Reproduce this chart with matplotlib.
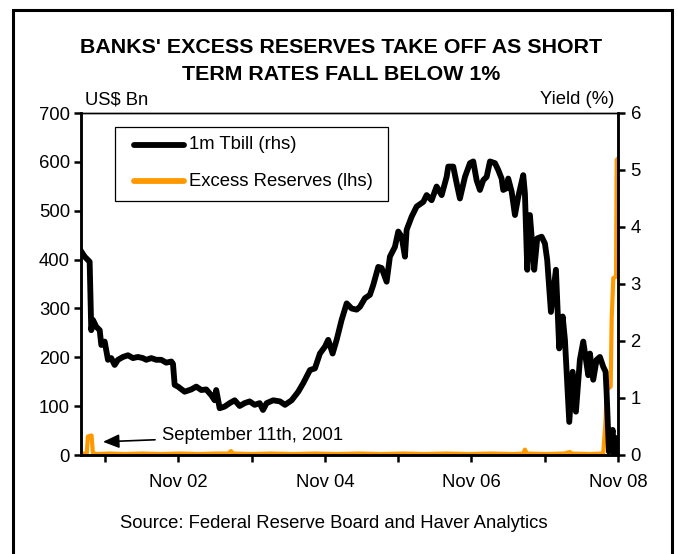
import matplotlib
matplotlib.use("Agg")
import matplotlib.pyplot as plt
from matplotlib.lines import Line2D
from matplotlib.patches import Rectangle

plt.rcParams['font.family'] = ['Liberation Sans', 'DejaVu Sans']

# 1m Tbill yield (%), x in decimal years
tbill_time = [2001.510, 2001.556, 2001.601, 2001.624, 2001.646, 2001.669, 2001.714, 2001.761,
              2001.783, 2001.829, 2001.874, 2001.919, 2001.965, 2002.010, 2002.079, 2002.147,
              2002.215, 2002.283, 2002.351, 2002.396, 2002.465, 2002.533, 2002.601, 2002.669,
              2002.738, 2002.761, 2002.784, 2002.829, 2002.920, 2003.010, 2003.079, 2003.147,
              2003.215, 2003.283, 2003.330, 2003.351, 2003.398, 2003.466, 2003.534, 2003.603,
              2003.671, 2003.739, 2003.807, 2003.875, 2003.944, 2003.989, 2004.039, 2004.129,
              2004.221, 2004.289, 2004.380, 2004.470, 2004.538, 2004.630, 2004.698, 2004.766,
              2004.834, 2004.879, 2004.939, 2004.994, 2005.062, 2005.131, 2005.199, 2005.267,
              2005.312, 2005.380, 2005.448, 2005.493, 2005.562, 2005.608, 2005.676, 2005.721,
              2005.789, 2005.835, 2005.881, 2005.926, 2005.949, 2006.017, 2006.086, 2006.176,
              2006.222, 2006.290, 2006.358, 2006.427, 2006.495, 2006.517, 2006.585, 2006.631,
              2006.676, 2006.745, 2006.813, 2006.858, 2006.904, 2006.949, 2006.994, 2007.041,
              2007.086, 2007.154, 2007.199, 2007.245, 2007.267, 2007.313, 2007.335, 2007.382,
              2007.427, 2007.472, 2007.540, 2007.563, 2007.595, 2007.631, 2007.690, 2007.731,
              2007.791, 2007.836, 2007.867, 2007.918, 2007.986, 2008.031, 2008.078, 2008.109,
              2008.168, 2008.214, 2008.259, 2008.313, 2008.359, 2008.427, 2008.450, 2008.495,
              2008.541, 2008.586, 2008.631, 2008.664, 2008.678, 2008.709, 2008.760, 2008.781,
              2008.800, 2008.818]
tbill_yield = [3.57, 3.48, 3.42, 3.39, 2.19, 2.37, 2.25, 2.19,
               1.93, 1.99, 1.67, 1.70, 1.58, 1.67, 1.72, 1.75,
               1.70, 1.72, 1.70, 1.67, 1.70, 1.67, 1.67, 1.62,
               1.64, 1.60, 1.23, 1.20, 1.11, 1.15, 1.20, 1.14,
               1.15, 1.05, 0.96, 1.14, 0.82, 0.85, 0.91, 0.96,
               0.86, 0.91, 0.94, 0.88, 0.91, 0.79, 0.91, 0.96,
               0.94, 0.88, 0.96, 1.11, 1.26, 1.49, 1.52, 1.78,
               1.90, 2.02, 1.78, 2.02, 2.37, 2.66, 2.57, 2.55,
               2.60, 2.75, 2.81, 2.98, 3.30, 3.28, 3.04, 3.48,
               3.65, 3.92, 3.83, 3.48, 3.95, 4.18, 4.36, 4.44,
               4.56, 4.47, 4.71, 4.56, 4.88, 5.06, 5.06, 4.77,
               4.50, 4.88, 5.12, 5.15, 4.82, 4.65, 4.82, 4.88,
               5.15, 5.12, 5.00, 4.85, 4.65, 4.68, 4.85, 4.62,
               4.21, 4.53, 4.91, 4.59, 3.25, 4.21, 3.25, 3.80,
               3.83, 3.71, 3.42, 2.51, 3.25, 1.87, 2.43, 2.02,
               0.58, 1.46, 0.76, 1.67, 1.99, 1.40, 1.78, 1.32,
               1.67, 1.72, 1.55, 1.46, 1.08, 0.06, 0.44, 0.02,
               0.30, 0.05]

# Excess reserves (US$ bn)
reserve_time = [2001.506, 2001.585, 2001.600, 2001.650, 2001.668, 2001.720, 2001.900, 2002.100,
                2002.350, 2002.600, 2002.850, 2003.100, 2003.350, 2003.520, 2003.552, 2003.580,
                2003.850, 2004.100, 2004.400, 2004.700, 2005.000, 2005.300, 2005.600, 2005.900,
                2006.200, 2006.500, 2006.800, 2007.100, 2007.400, 2007.540, 2007.563, 2007.590,
                2007.850, 2008.100, 2008.177, 2008.200, 2008.450, 2008.631, 2008.664, 2008.678,
                2008.733, 2008.747, 2008.769, 2008.806, 2008.815, 2008.829]
reserve_bn = [3, 3, 38, 40, 4, 2, 3, 2,
              3, 2, 3, 2, 3, 3, 8, 3,
              2, 3, 2, 3, 2, 3, 2, 3,
              2, 3, 2, 3, 2, 3, 11, 3,
              2, 3, 6, 3, 2, 3, 72, 133,
              140, 280, 362, 365, 604, 606]

tick_years = [2001.833, 2002.833, 2003.833, 2004.833, 2005.833, 2006.833, 2007.833, 2008.833]
tick_labels = ['', 'Nov 02', '', 'Nov 04', '', 'Nov 06', '', 'Nov 08']
legend_labels = ['1m Tbill (rhs)', 'Excess Reserves (lhs)']

W, H = 678, 554
FS = 13.3
fig = plt.figure(figsize=(W / 100, H / 100), dpi=100)
ax = fig.add_axes([81 / W, 99 / H, 537 / W, 342 / H])
ax2 = ax.twinx()

orange = '#FF9900'
ax.plot(reserve_time, reserve_bn, color=orange, lw=3.0)
ax2.plot(tbill_time, tbill_yield, color='black', lw=4.2)

ax.set_xlim(2001.506, 2008.833)
ax.set_ylim(0, 700)
ax2.set_ylim(0, 6)
ax.set_yticks(range(0, 701, 100))
ax2.set_yticks(range(0, 7))
ax.set_xticks(tick_years)
ax.set_xticklabels(tick_labels)

for a in (ax, ax2):
    for s in ('left', 'right', 'bottom'):
        a.spines[s].set_linewidth(1.8)
    a.spines['top'].set_linewidth(1.0)
    a.tick_params(labelsize=FS, width=1.8, length=5, direction='out')
ax.tick_params(axis='y', pad=3)
ax2.tick_params(axis='y', pad=4)
ax.tick_params(axis='x', pad=9)

fig.text(85 / W, 1 - 100 / H, 'US$ Bn', fontsize=FS, va='center', ha='left')
fig.text(614 / W, 1 - 100 / H, 'Yield (%)', fontsize=FS, va='center', ha='right')

fig.text(341 / W, 1 - 61 / H, "BANKS' EXCESS RESERVES TAKE OFF AS SHORT\nTERM RATES FALL BELOW 1%",
         fontsize=15.4, fontweight='bold', ha='center', va='center', linespacing=1.5)

fig.text(334 / W, 1 - 524 / H, 'Source: Federal Reserve Board and Haver Analytics',
         fontsize=FS, ha='center', va='center')

ax.annotate('September 11th, 2001', xy=(2001.806, 27), xytext=(2002.611, 39),
            fontsize=FS, va='center', ha='left',
            arrowprops=dict(arrowstyle='-|>,head_length=0.7,head_width=0.3',
                            color='black', lw=1.2, shrinkA=3, shrinkB=0,
                            mutation_scale=14))

# legend box, drawn by hand in figure pixels
def fx(px):
    return px / W

def fy(py):
    return 1 - py / H

fig.patches.append(Rectangle((fx(115), fy(201)), (388 - 115) / W, (201 - 127) / H,
                             transform=fig.transFigure, fill=False, lw=0.9,
                             edgecolor='black', zorder=5))
for row_y, color, label in zip([145, 181], ['black', orange], legend_labels):
    fig.lines.append(Line2D([fx(134), fx(184)], [fy(row_y), fy(row_y)], color=color,
                            lw=4.2, solid_capstyle='round', transform=fig.transFigure))
    fig.text(fx(189), fy(row_y), label, fontsize=FS, ha='left', va='center')

fig.patches.append(Rectangle((13 / W, -0.05), (672 - 13) / W, 1 - 10 / H + 0.05,
                             transform=fig.transFigure, fill=False, lw=2.2,
                             edgecolor='black', clip_on=False))

fig.savefig('out.png', dpi=100)
